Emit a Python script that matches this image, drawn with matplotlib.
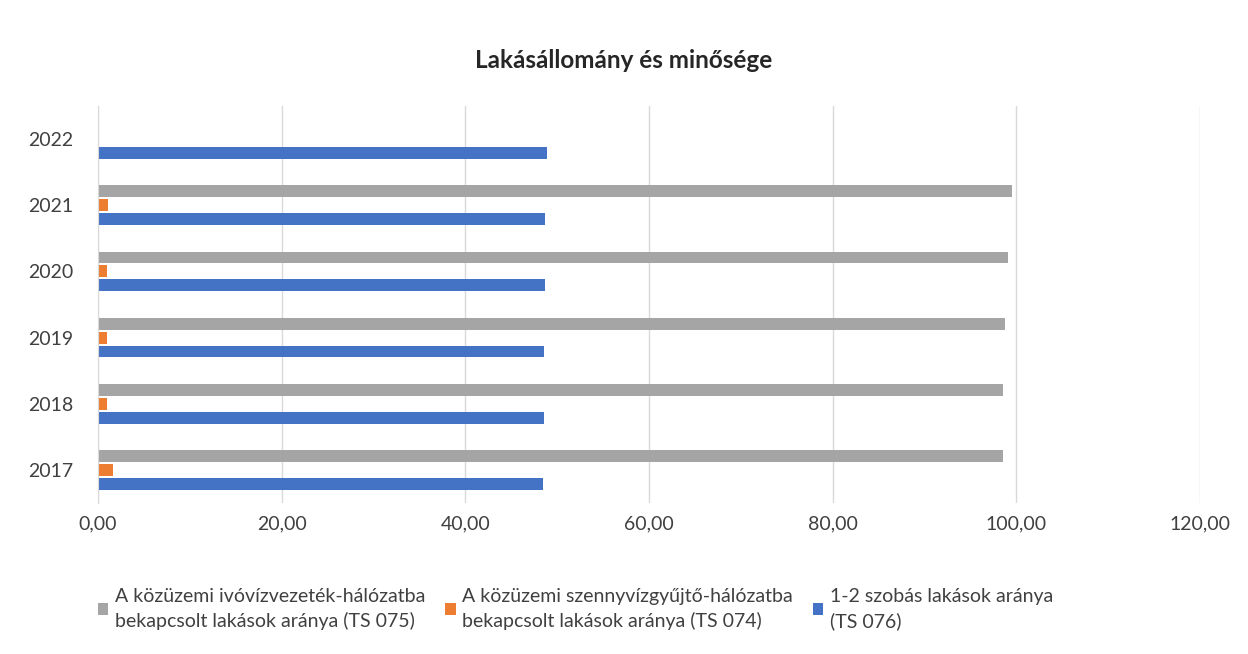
import numpy as np
import matplotlib.pyplot as plt
from matplotlib.ticker import FuncFormatter

plt.rcParams['font.family'] = ['Lato', 'DejaVu Sans']

# adatok (leolvasva az abrarol)
years = ['2017', '2018', '2019', '2020', '2021', '2022']
ivoviz = [98.5, 98.5, 98.8, 99.1, 99.5, np.nan]      # TS 075
szennyviz = [1.6, 1.0, 1.0, 1.0, 1.1, np.nan]       # TS 074
szobas = [48.5, 48.6, 48.6, 48.7, 48.7, 48.9]      # TS 076

labels = ['A közüzemi ivóvízvezeték-hálózatba\nbekapcsolt lakások aránya (TS 075)',
          'A közüzemi szennyvízgyűjtő-hálózatba\nbekapcsolt lakások aránya (TS 074)',
          '1-2 szobás lakások aránya\n(TS 076)']
colors = ['#A5A5A5', '#ED7D31', '#4472C4']

fig = plt.figure(figsize=(12.48, 6.54), dpi=100)
ax = fig.add_axes([98 / 1248, 1 - 503 / 654, (1200 - 98) / 1248, (503 - 106) / 654])

y = np.arange(len(years))
h = 0.18
off = 0.21
ax.barh(y + off, ivoviz, height=h, color=colors[0], label=labels[0])
ax.barh(y, szennyviz, height=h, color=colors[1], label=labels[1])
ax.barh(y - off, szobas, height=h, color=colors[2], label=labels[2])

ax.set_xlim(0, 120)
ax.set_ylim(-0.5, len(years) - 0.5)
ax.set_xticks(np.arange(0, 121, 20))
ax.xaxis.set_major_formatter(FuncFormatter(lambda v, p: f'{v:.2f}'.replace('.', ',')))
ax.set_yticks(y)
ax.set_yticklabels(years)
ax.tick_params(axis='both', length=0, labelsize=14, colors='#404040')
ax.tick_params(axis='x', pad=9)
ax.tick_params(axis='y', pad=18)
ax.grid(axis='x', color='#D9D9D9', linewidth=1)
ax.set_axisbelow(True)
for s in ['top', 'right', 'bottom']:
    ax.spines[s].set_visible(False)
ax.spines['left'].set_color('#D9D9D9')

fig.suptitle('Lakásállomány és minősége', y=0.925, fontsize=17.5, fontweight='bold', color='#262626')

leg = fig.legend(loc='lower left', bbox_to_anchor=(80 / 1248, 0.01), ncol=3, frameon=False,
                 fontsize=14, handlelength=0.55, handleheight=0.55, handletextpad=0.35,
                 columnspacing=1.0, labelcolor='#404040')
for t in leg.get_texts():
    t.set_linespacing(1.45)

fig.savefig('out.png', dpi=100)
